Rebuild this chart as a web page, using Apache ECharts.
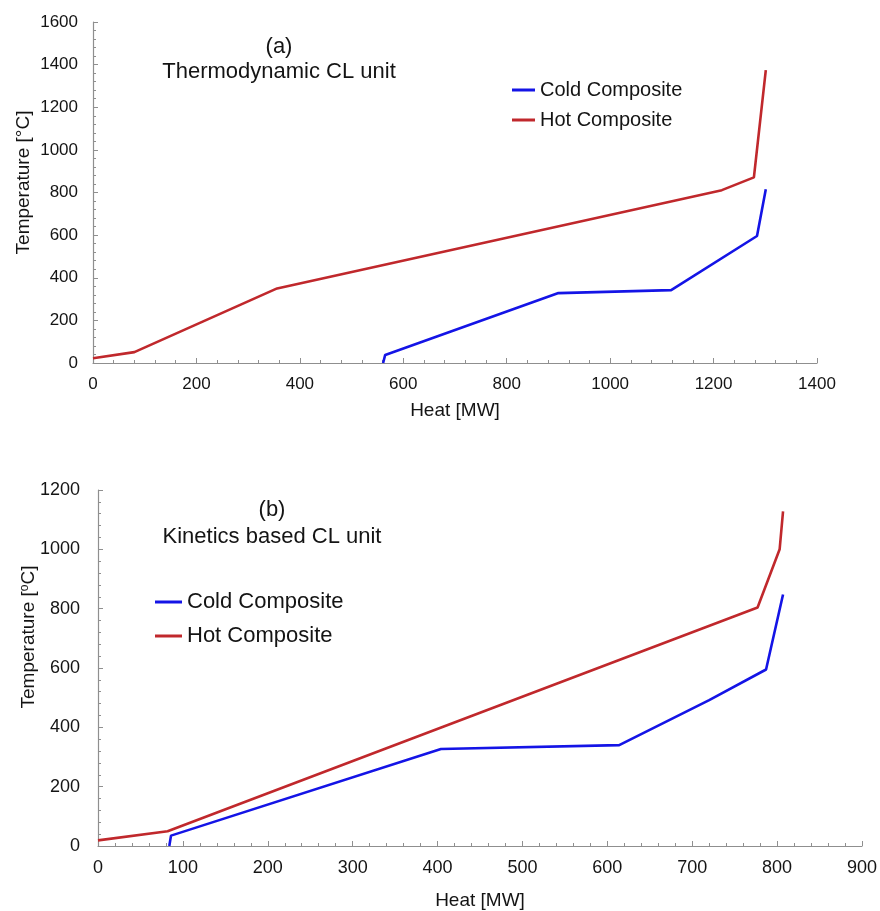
<!DOCTYPE html>
<html>
<head>
<meta charset="utf-8">
<script src="https://cdn.jsdelivr.net/npm/echarts@6/dist/echarts.min.js"></script>
<style>
  html, body { margin: 0; padding: 0; background: #fff; }
  #chart { width: 880px; height: 911px; }
</style>
</head>
<body>
<div id="chart"></div>
<script>
// (a) Thermodynamic CL unit — composite curves [heat MW, temperature °C]
const coldA = [[561, 0], [565, 38], [900, 328], [1118, 342], [1284, 596], [1301, 815]];
const hotA  = [[0, 22], [80, 51], [356, 350], [1216, 811], [1278, 871], [1301, 1374]];

// (b) Kinetics based CL unit — composite curves [heat MW, temperature °C]
const coldB = [[84, 0], [86, 35], [404, 327], [614, 340], [720, 492], [787, 595], [807, 848]];
const hotB  = [[0, 19], [82, 50], [777, 804], [803, 1000], [807, 1128]];

const seriesNames = ['Cold Composite', 'Hot Composite'];
const panelTitles = ['(a)\nThermodynamic CL unit', '(b)\nKinetics based CL unit'];

const COLD = '#1414e6';
const HOT = '#c0282c';
const AXIS = '#8f8f8f';
const TXT = '#141414';
const FONT = '"Liberation Sans", Arial, Helvetica, sans-serif';

// plain numbers on the ticks, no thousands separator
const plain = v => String(v);

function xAxis(gridIndex, max, interval, labelSize, nameGap) {
  return {
    type: 'value', gridIndex, min: 0, max, interval,
    name: 'Heat [MW]', nameLocation: 'middle', nameGap,
    nameTextStyle: { fontFamily: FONT, fontSize: 19, color: TXT },
    axisLine: { show: true, lineStyle: { color: AXIS, width: 1.2 } },
    axisTick: { show: true, inside: true, length: 5, lineStyle: { color: AXIS } },
    minorTick: { show: true, splitNumber: 5, length: 3, lineStyle: { color: AXIS } },
    splitLine: { show: false },
    axisLabel: { fontFamily: FONT, fontSize: labelSize, color: TXT, margin: 13, formatter: plain }
  };
}

function yAxis(gridIndex, max, name, labelSize, margin, nameGap, shift) {
  return {
    type: 'value', gridIndex, min: 0, max, interval: 200,
    name, nameLocation: 'middle', nameGap, nameMoveOverlap: false,
    nameTextStyle: {
      fontFamily: FONT, fontSize: 19, color: TXT,
      padding: [0, 0, 0, shift],
      rich: { sup: { fontFamily: FONT, fontSize: 12, color: TXT, padding: [0, 0, 7, 0] } }
    },
    axisLine: { show: true, lineStyle: { color: AXIS, width: 1.2 } },
    axisTick: { show: true, inside: true, length: 5, lineStyle: { color: AXIS } },
    minorTick: { show: true, splitNumber: 5, length: 3, lineStyle: { color: AXIS } },
    splitLine: { show: false },
    axisLabel: { fontFamily: FONT, fontSize: labelSize, color: TXT, margin, formatter: plain }
  };
}

function line(name, data, idx, color) {
  return {
    type: 'line', name, data, xAxisIndex: idx, yAxisIndex: idx,
    showSymbol: false, symbol: 'none', smooth: false,
    lineStyle: { color, width: 2.6 }, itemStyle: { color },
    animation: false
  };
}

const chart = echarts.init(document.getElementById('chart'), null, { renderer: 'canvas' });
chart.setOption({
  backgroundColor: '#ffffff',
  animation: false,
  title: [
    { text: panelTitles[0], left: 279, top: 34, textAlign: 'center', padding: 0,
      textStyle: { fontFamily: FONT, fontSize: 22, lineHeight: 25, fontWeight: 'normal', color: TXT } },
    { text: panelTitles[1], left: 272, top: 496, textAlign: 'center', padding: 0,
      textStyle: { fontFamily: FONT, fontSize: 22, lineHeight: 27, fontWeight: 'normal', color: TXT } }
  ],
  legend: [
    { orient: 'vertical', left: 512, top: 80, itemWidth: 23, itemHeight: 3, itemGap: 10,
      icon: 'rect', padding: 0, data: seriesNames,
      textStyle: { fontFamily: FONT, fontSize: 20, color: TXT } },
    { orient: 'vertical', left: 155, top: 591, itemWidth: 27, itemHeight: 3, itemGap: 12,
      icon: 'rect', padding: 0, data: seriesNames,
      textStyle: { fontFamily: FONT, fontSize: 22, color: TXT } }
  ],
  grid: [
    { left: 93, right: 63, top: 22, bottom: 548, containLabel: false },
    { left: 98, right: 16, top: 490, bottom: 59, containLabel: false }
  ],
  xAxis: [xAxis(0, 1400, 200, 17, 38), xAxis(1, 900, 100, 18, 45)],
  yAxis: [
    yAxis(0, 1600, 'Temperature [°C]', 17, 15, 60, 20),
    yAxis(1, 1200, 'Temperature [{sup|o}C]', 18, 18, 60, 62)
  ],
  series: [
    line(seriesNames[0], coldA, 0, COLD),
    line(seriesNames[1], hotA, 0, HOT),
    line(seriesNames[0], coldB, 1, COLD),
    line(seriesNames[1], hotB, 1, HOT)
  ]
});
</script>
</body>
</html>
